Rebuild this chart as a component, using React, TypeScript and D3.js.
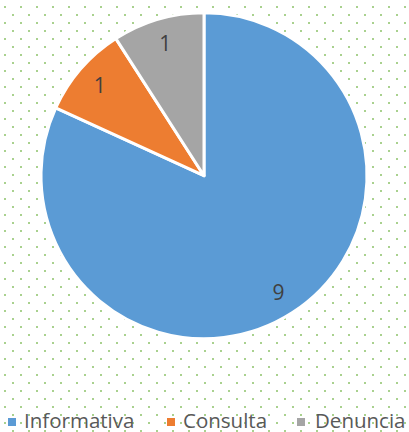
import React from "react";
import * as d3 from "d3";

const categories = ["Informativa", "Consulta", "Denuncia"];
const values = [9, 1, 1];
const colors = ["#5b9bd5", "#ed7d31", "#a5a5a5"];

const W = 409;
const H = 432;
const cx = 204;
const cy = 175.7;
const R = 163;
const labelR = 138;

const legendSquareX = [8, 167, 297];
const legendTextX = [24, 183, 315];

export default function App() {
  const pie = d3.pie<number>().sort(null).value((d) => d);
  const arcs = pie(values);
  const arcGen = d3.arc<d3.PieArcDatum<number>>().innerRadius(0).outerRadius(R);
  const labelArc = d3.arc<d3.PieArcDatum<number>>().innerRadius(labelR).outerRadius(labelR);

  return (
    <svg
      width={W}
      height={H}
      style={{ position: "fixed", left: 0, top: 0, background: "#ffffff" }}
    >
      <defs>
        <pattern id="dots" width={16} height={16} patternUnits="userSpaceOnUse">
          <rect x={4} y={6} width={2} height={2} fill="#a9d18e" />
          <rect x={12} y={14} width={2} height={2} fill="#a9d18e" />
        </pattern>
      </defs>
      <rect x={0} y={0} width={W} height={H} fill="url(#dots)" />
      <g transform={`translate(${cx},${cy})`}>
        {arcs.map((a, i) => (
          <path key={i} d={arcGen(a) || ""} fill={colors[i]} stroke="#ffffff" strokeWidth={3} strokeLinejoin="round" />
        ))}
        {arcs.map((a, i) => {
          const [x, y] = labelArc.centroid(a);
          return (
            <text
              key={"l" + i}
              x={x}
              y={y}
              textAnchor="middle"
              dominantBaseline="central"
              fontFamily="'Open Sans', sans-serif"
              fontSize={21}
              fill="#404040"
            >
              {values[i]}
            </text>
          );
        })}
      </g>
      {categories.map((c, i) => (
        <g key={"lg" + i}>
          <rect x={legendSquareX[i]} y={418} width={8} height={8} fill={colors[i]} />
          <text
            x={legendTextX[i]}
            y={427.5}
            fontFamily="'Open Sans', sans-serif"
            fontSize={20.5}
            fill="#595959"
          >
            {c}
          </text>
        </g>
      ))}
    </svg>
  );
}
